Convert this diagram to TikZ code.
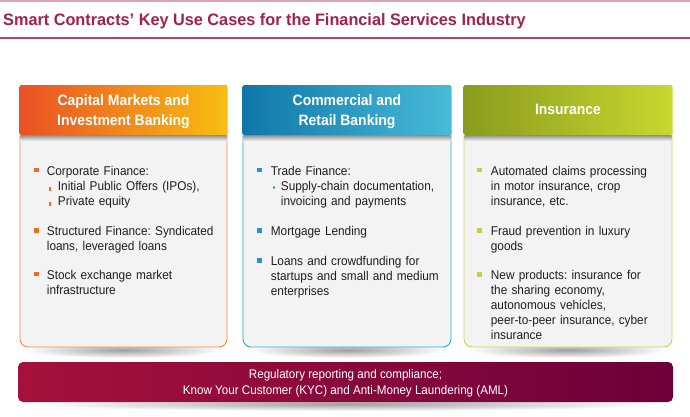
\documentclass[tikz,border=0pt]{standalone}
\usepackage{fontspec}
\setmainfont{Liberation Sans}[FakeStretch=0.93]
\newfontfamily\titlefont{Liberation Sans}[FakeStretch=0.98]
\frenchspacing
\definecolor{toppink}{HTML}{DFA0B2}
\definecolor{titlered}{HTML}{A3204B}
\definecolor{rulered}{HTML}{B8406A}
\definecolor{bodygrey}{HTML}{F3F3F3}
\definecolor{txt}{HTML}{1E1E1E}
\definecolor{oA}{HTML}{EA5125}
\definecolor{oB}{HTML}{EF6A22}
\definecolor{oC}{HTML}{F8BE12}
\definecolor{oBorder}{HTML}{EF8A3A}
\definecolor{oBul}{HTML}{EE6A2A}
\definecolor{bA}{HTML}{0F77A8}
\definecolor{bB}{HTML}{1C9ACB}
\definecolor{bC}{HTML}{48BBD8}
\definecolor{bBorder}{HTML}{2AA7DA}
\definecolor{bBul}{HTML}{2B8FD0}
\definecolor{gA}{HTML}{899B1E}
\definecolor{gB}{HTML}{A0B327}
\definecolor{gC}{HTML}{C8D82F}
\definecolor{gBorder}{HTML}{C5D64A}
\definecolor{gBul}{HTML}{C1D23A}
\definecolor{bandA}{HTML}{A5113C}
\definecolor{bandB}{HTML}{6C003A}
\begin{document}
\begin{tikzpicture}[x=1pt,y=-1pt,
  headtext/.style={align=center,text=white,inner sep=0pt,font=\bfseries\fontsize{15}{20}\selectfont},
  item/.style={anchor=base west,align=left,text width=180pt,inner sep=0pt,text=txt,font=\fontsize{12.7}{15}\selectfont},
  boxshadow/.style={inner color=black!38,outer color=white},
  hshadow/.style={top color=black!45,bottom color=bodygrey}]
\useasboundingbox (0,0) rectangle (690,416);
% top lines and title
\draw[toppink,line width=1.5pt] (0,1) -- (690,1);
\node[anchor=base west,inner sep=0pt,text=titlered,font=\titlefont\bfseries\fontsize{16.6}{20}\selectfont] (title) at (3,25) {Smart Contracts’ Key Use Cases for the Financial Services Industry};
\draw[rulered,line width=1.3pt] (0,38) -- (690,38);

% shadows
\shade[boxshadow] (123.5,350) ellipse (100 and 8);
\shade[boxshadow] (347,350) ellipse (100 and 8);
\shade[boxshadow] (568,350) ellipse (100 and 8);
\shade[boxshadow] (345.5,404) ellipse (320 and 7);

% ---------- box 1
\draw[oBorder,fill=bodygrey,line width=0.9pt] (20,130) [rounded corners=8pt]-- (20,347) -- (227,347) [sharp corners]-- (227,130) -- cycle;
\shade[left color=oA,middle color=oB,right color=oC,rounded corners=2pt] (19.5,85) rectangle (227.5,135);
\shade[hshadow] (20.5,135) rectangle (226.5,141);
\node[headtext] (h1) at (123.5,112) {Capital Markets and\\Investment Banking};
\fill[oBul] (33.5,167.5) rectangle +(5,4.5);
\node[item] (b1a) at (46.7,175) {Corporate Finance:};
\fill[oBul] (49.3,186.5) rectangle +(2,4);
\fill[oBul] (49.3,201.5) rectangle +(2,4);
\node[item] (b1b) at (57.7,190.5) {Initial Public Offers (IPOs),\\Private equity};
\fill[oBul] (33.5,228) rectangle +(5,4.5);
\node[item] (b1c) at (46.7,235.5) {Structured Finance: Syndicated\\loans, leveraged loans};
\fill[oBul] (33.5,271.5) rectangle +(5,4.5);
\node[item] (b1d) at (46.7,279) {Stock exchange market\\infrastructure};

% ---------- box 2
\draw[bBorder,fill=bodygrey,line width=0.9pt] (243,130) [rounded corners=8pt]-- (243,347) -- (451,347) [sharp corners]-- (451,130) -- cycle;
\shade[left color=bA,middle color=bB,right color=bC,rounded corners=2pt] (242.5,85) rectangle (451.5,135);
\shade[hshadow] (243.5,135) rectangle (450.5,141);
\node[headtext] (h2) at (347,111.4) {Commercial and\\Retail Banking};
\fill[bBul] (257,167.5) rectangle +(5,4.5);
\node[item] (b2a) at (270.7,175) {Trade Finance:};
\fill[bBul] (274,187.5) circle (1.4);
\node[item] (b2b) at (280.7,190.5) {Supply-chain documentation,\\invoicing and payments};
\fill[bBul] (257,228) rectangle +(5,4.5);
\node[item] (b2c) at (270.7,235.5) {Mortgage Lending};
\fill[bBul] (257,258) rectangle +(5,4.5);
\node[item] (b2d) at (270.7,265.5) {Loans and crowdfunding for\\startups and small and medium\\enterprises};

% ---------- box 3
\draw[gBorder,fill=bodygrey,line width=0.9pt] (464,130) [rounded corners=8pt]-- (464,347) -- (672,347) [sharp corners]-- (672,130) -- cycle;
\shade[left color=gA,middle color=gB,right color=gC,rounded corners=2pt] (463.5,85) rectangle (672.5,135);
\shade[hshadow] (464.5,135) rectangle (671.5,141);
\node[headtext] (h3) at (568,109.5) {Insurance};
\fill[gBul] (477,167.5) rectangle +(5,4.5);
\node[item] (b3a) at (490.7,175) {Automated claims processing\\in motor insurance, crop\\insurance, etc.};
\fill[gBul] (477,228) rectangle +(5,4.5);
\node[item] (b3b) at (490.7,235.5) {Fraud prevention in luxury\\goods};
\fill[gBul] (477,272) rectangle +(5,4.5);
\node[item] (b3c) at (490.7,279.5) {New products: insurance for\\the sharing economy,\\autonomous vehicles,\\peer-to-peer insurance, cyber\\insurance};

% ---------- band
\shade[left color=bandA,right color=bandB,rounded corners=5pt] (18,362) rectangle (673,402);
\node[align=center,inner sep=0pt,text=white,font=\fontsize{12.5}{16}\selectfont] (band) at (345.5,383) {Regulatory reporting and compliance;\\Know Your Customer (KYC) and Anti-Money Laundering (AML)};
\end{tikzpicture}
\end{document}
